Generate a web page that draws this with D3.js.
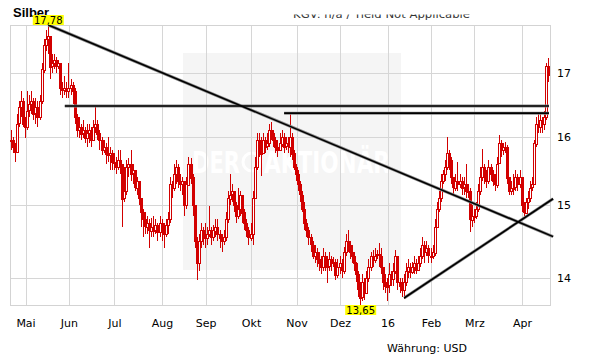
<!DOCTYPE html>
<html lang="de">
<head>
<meta charset="UTF-8">
<title>Silber</title>
<script src="https://d3js.org/d3.v7.min.js"></script>
<style>
  body { margin: 0; background: #fff; }
  svg text { font-family: 'DejaVu Sans', sans-serif; }
  .grid line { stroke: #d6d6d6; shape-rendering: crispEdges; }
  .axis text { font-size: 11px; fill: #000; }
  .axis path, .axis line { display: none; }
</style>
</head>
<body>
<div id="chart"></div>
<script>
// daily silver prices (USD), first trading day 22.04.2015, weekdays only
const startDate = "2015-04-22";

// closes, one row per month (open = previous close)
const closes = [
  15.95,15.85,15.78,16.2,16.45,16.55,16.2,
  16.15,16.4,16.5,16.55,16.35,16.45,16.3,16.55,17.05,17.45,17.55,17.6,17.1,17.15,17.2,17.1,17.15,16.75,16.72,16.75,16.7,
  16.75,16.8,16.7,16.3,16.1,16.15,16.05,16.1,15.98,16.05,16.1,15.95,16.15,16.2,16.05,15.95,15.8,15.85,15.75,15.72,15.75,15.62,
  15.6,15.55,15.65,15.6,15.1,15.2,15.55,15.6,15.45,15.5,15.25,15.35,15.1,14.9,14.8,14.7,14.75,14.65,14.7,14.65,14.72,14.62,14.75,
  14.65,14.6,14.72,14.8,15.3,15.25,15.45,15.55,15.35,15.3,15.35,15.0,15.3,15.6,15.4,15.0,14.5,14.2,14.5,14.65,14.6,
  14.55,14.6,14.65,14.55,14.65,14.7,14.6,14.55,14.5,14.55,14.8,15.1,15.15,15.2,15.0,14.85,14.95,15.15,14.9,14.75,14.65,14.55,
  14.6,15.1,15.55,15.95,15.85,15.75,15.95,15.85,15.9,16.1,16.05,15.95,15.85,15.8,15.9,16.0,15.85,15.9,15.85,16.0,15.75,15.55,
  15.45,15.3,15.15,14.95,14.75,14.65,14.55,14.45,14.3,14.35,14.25,14.2,14.15,14.3,14.2,14.15,14.25,14.2,14.22,14.05,14.15,
  14.2,14.1,14.35,14.5,14.45,14.35,14.3,14.2,14.05,13.85,13.75,13.95,13.8,14.0,14.15,14.3,14.25,14.3,14.32,14.3,14.15,13.95,13.9,
  13.9,14.05,14.0,14.1,14.3,13.95,13.9,13.85,13.95,14.1,14.15,14.08,14.15,14.2,14.1,14.2,14.3,14.45,14.35,14.4,14.3,
  14.3,14.35,14.7,14.95,15.1,15.35,15.45,15.55,15.75,15.65,15.4,15.25,15.35,15.3,15.35,15.25,15.3,15.2,15.2,14.8,14.85,
  14.85,14.95,15.2,15.4,15.55,15.45,15.35,15.55,15.45,15.35,15.3,15.6,15.9,15.8,15.85,15.85,15.4,15.2,15.25,15.25,15.4,15.3,15.4,
  15.0,14.9,15.05,15.1,15.25,15.3,15.9,16.2,16.15,16.25,16.2,16.3,17.1,16.95
];

const highs = [
  16.1,16.0,15.9,16.35,16.55,16.7,16.6,
  16.3,16.7,16.65,16.7,16.6,16.6,16.55,16.65,17.15,17.55,17.7,17.78,17.55,17.3,17.3,17.25,17.2,17.15,16.85,16.95,16.85,
  17.15,16.9,16.85,16.75,16.35,16.3,16.2,16.25,16.15,16.2,16.2,16.15,16.25,16.48,16.25,16.1,16.0,15.95,15.9,16.0,15.85,15.8,
  15.75,15.7,15.8,15.8,15.6,15.55,15.65,15.68,15.8,15.6,15.5,15.4,15.3,15.1,14.95,14.9,14.85,14.8,14.82,14.85,14.8,14.75,14.85,
  14.8,14.75,14.8,14.9,15.4,15.35,15.6,15.65,15.6,15.45,15.4,15.35,15.4,15.7,15.68,15.45,14.95,14.55,14.6,14.75,14.7,
  14.75,14.7,14.99,14.7,14.72,14.8,14.8,14.65,14.6,14.65,14.9,15.2,15.44,15.3,15.2,15.05,15.25,15.2,15.15,14.95,14.8,14.7,
  14.75,15.2,15.7,16.05,16.05,16.0,16.05,16.0,16.05,16.2,16.22,16.1,16.0,15.95,16.05,16.1,16.05,16.0,16.0,16.36,16.05,15.8,
  15.6,15.5,15.35,15.2,15.05,14.8,14.7,14.6,14.5,14.45,14.4,14.35,14.3,14.4,14.35,14.3,14.35,14.3,14.28,14.25,14.25,
  14.3,14.25,14.42,14.6,14.65,14.5,14.45,14.35,14.22,14.1,13.95,14.05,14.0,14.1,14.25,14.35,14.38,14.4,14.38,14.47,14.4,14.15,14.05,
  14.0,14.2,14.1,14.2,14.38,14.3,14.0,14.0,14.05,14.2,14.25,14.2,14.22,14.3,14.25,14.3,14.4,14.56,14.5,14.5,14.45,
  14.4,14.45,14.8,15.05,15.2,15.45,15.5,15.65,16.0,15.8,15.7,15.4,15.45,15.62,15.45,15.4,15.4,15.6,15.3,15.25,15.0,
  14.95,15.05,15.3,15.55,15.81,15.6,15.5,15.65,15.6,15.5,15.45,15.7,16.03,15.95,15.9,15.92,15.88,15.4,15.35,15.45,15.5,15.45,15.5,
  15.4,15.05,15.1,15.2,15.35,15.4,15.95,16.3,16.37,16.35,16.3,16.4,17.15,17.24
];

const lows = [
  15.8,15.75,15.62,15.75,16.15,16.3,16.15,
  15.98,16.1,16.3,16.35,16.25,16.2,16.15,16.25,16.5,17.0,17.35,17.3,16.9,17.0,17.05,17.0,17.05,16.65,16.6,16.65,16.6,
  16.6,16.65,16.5,16.2,16.0,15.98,15.95,15.98,15.9,15.85,15.9,15.85,15.95,16.05,15.95,15.8,15.72,15.75,15.6,15.62,15.5,15.5,
  15.5,15.45,15.5,15.45,14.69,15.05,15.15,15.4,15.35,15.3,15.2,15.15,15.0,14.7,14.55,14.6,14.6,14.4,14.55,14.55,14.6,14.5,14.55,
  14.5,14.4,14.55,14.6,14.75,15.1,15.2,15.3,15.25,15.2,15.15,14.85,14.95,15.3,15.3,14.85,14.4,13.98,14.1,14.4,14.45,
  14.4,14.45,14.55,14.45,14.5,14.55,14.5,14.4,14.35,14.45,14.5,14.75,15.0,15.05,14.9,14.75,14.8,14.85,14.75,14.65,14.55,14.45,
  14.5,14.45,15.1,15.5,15.7,15.42,15.75,15.75,15.8,15.85,15.95,15.85,15.75,15.7,15.78,15.85,15.75,15.8,15.75,15.7,15.65,15.5,
  15.35,15.2,15.05,14.9,14.65,14.55,14.45,14.35,14.25,14.2,14.15,14.1,14.05,14.1,14.1,13.93,14.1,14.1,14.15,13.98,14.0,
  14.05,14.0,14.05,14.3,14.35,14.25,14.2,14.1,13.95,13.75,13.65,13.7,13.72,13.8,13.95,14.1,14.15,14.2,14.25,14.15,14.05,13.85,13.8,
  13.7,13.8,13.9,13.9,14.05,13.85,13.8,13.75,13.73,13.9,14.0,14.0,14.05,14.05,14.05,14.1,14.15,14.25,14.2,14.3,14.2,
  14.2,14.25,14.3,14.7,14.9,15.05,15.3,15.35,15.5,15.5,15.3,15.15,15.2,15.2,15.25,15.15,15.15,15.1,15.1,14.63,14.7,
  14.75,14.8,14.9,15.15,15.35,15.3,15.25,15.3,15.35,15.28,15.2,15.25,15.6,15.7,15.72,15.75,15.3,15.15,15.15,15.15,15.2,15.2,15.25,
  14.9,14.85,14.88,14.95,15.05,15.2,15.3,15.85,16.05,16.05,16.05,16.1,16.25,16.85
];

const monthLabels = ["Mai", "Jun", "Jul", "Aug", "Sep", "Okt", "Nov", "Dez", "16", "Feb", "Mrz", "Apr"];
const yTicks = [14, 15, 16, 17];

// trend lines: [date, price] -> [date, price]
const trendLines = [
  { from: "2015-05-18", p1: 17.78, to: "2016-04-22", p2: 14.56 },
  { from: "2015-05-28", p1: 16.47, to: "2016-04-20", p2: 16.47 },
  { from: "2015-10-23", p1: 16.36, to: "2016-04-20", p2: 16.36 },
  { from: "2016-01-13", p1: 13.74, to: "2016-04-22", p2: 15.09 }
];

const W = 611, H = 364;
const plot = { left: 10, right: 550, top: 25, bottom: 305 };

// weekday index counted from startDate
const t0 = new Date(startDate + "T00:00:00Z");
function dayIndex(str) {
  const t = new Date(str + "T00:00:00Z");
  let n = 0;
  for (let d = new Date(t0); d < t; d.setUTCDate(d.getUTCDate() + 1)) {
    const wd = d.getUTCDay();
    if (wd !== 0 && wd !== 6) n++;
  }
  return n;
}
const dates = [];
for (let d = new Date(t0); dates.length < closes.length; d.setUTCDate(d.getUTCDate() + 1)) {
  const wd = d.getUTCDay();
  if (wd !== 0 && wd !== 6) dates.push(new Date(d));
}
const data = closes.map((c, i) => ({
  i: i,
  date: dates[i],
  open: i === 0 ? c : closes[i - 1],
  close: c,
  high: highs[i],
  low: lows[i]
}));

// first trading day of every month
const monthStarts = [];
data.forEach((d, i) => {
  if (i > 0 && d.date.getUTCMonth() !== data[i - 1].date.getUTCMonth()) monthStarts.push(i);
});

const x = d3.scaleLinear().domain([-0.5, data.length - 0.5]).range([plot.left, plot.right]);
const y = d3.scaleLog()
  .domain([d3.min(lows), d3.max(highs)])
  .range([plot.bottom, plot.top]);

const svg = d3.select("#chart").append("svg")
  .attr("width", W)
  .attr("height", H);

// title first, so the max label sits on top of it
svg.append("text")
  .attr("x", 13).attr("y", 17)
  .style("font-family", "'Liberation Sans', Arial, sans-serif")
  .style("font-size", "13px").style("font-weight", "bold")
  .text("Silber");
// header line, cut off at the top like in the source
svg.append("clipPath").attr("id", "hdr")
  .append("rect").attr("x", 0).attr("y", 14.5).attr("width", W).attr("height", 10);
svg.append("text")
  .attr("x", 293).attr("y", 18)
  .attr("clip-path", "url(#hdr)")
  .attr("textLength", 177).attr("lengthAdjust", "spacingAndGlyphs")
  .style("font-size", "11px").attr("fill", "#333")
  .text("KGV: n/a / Yield Not Applicable");

// watermark
svg.append("rect")
  .attr("x", 183).attr("y", 53).attr("width", 218).attr("height", 217)
  .attr("fill", "#f5f5f5");
svg.append("text")
  .attr("x", 192).attr("y", 173)
  .attr("textLength", 48).attr("lengthAdjust", "spacingAndGlyphs")
  .style("font-size", "30px").style("font-weight", "bold").attr("fill", "#fff")
  .text("DER");
svg.append("circle")
  .attr("cx", 252).attr("cy", 162).attr("r", 9)
  .attr("fill", "none").attr("stroke", "#fff").attr("stroke-width", 3);
svg.append("text")
  .attr("x", 264).attr("y", 173)
  .attr("textLength", 126).attr("lengthAdjust", "spacingAndGlyphs")
  .style("font-size", "30px").style("font-weight", "bold").attr("fill", "#fff")
  .text("AKTIONÄR");

// grid + frame
const grid = svg.append("g").attr("class", "grid");
grid.selectAll(".vx").data(monthStarts).enter().append("line")
  .attr("x1", d => Math.round(x(d)) + 0.5).attr("x2", d => Math.round(x(d)) + 0.5)
  .attr("y1", plot.top).attr("y2", plot.bottom);
grid.selectAll(".hy").data(yTicks).enter().append("line")
  .attr("x1", plot.left).attr("x2", plot.right)
  .attr("y1", d => Math.round(y(d)) + 0.5).attr("y2", d => Math.round(y(d)) + 0.5);
svg.append("rect")
  .attr("x", plot.left + 0.5).attr("y", plot.top + 0.5)
  .attr("width", plot.right - plot.left).attr("height", plot.bottom - plot.top)
  .attr("fill", "none").attr("stroke", "#d3d3d3")
  .style("shape-rendering", "crispEdges");

// candles
const red = "#d20000";
const candles = svg.append("g");
candles.selectAll(".wick").data(data).enter().append("line")
  .attr("x1", d => Math.floor(x(d.i)) + 0.5).attr("x2", d => Math.floor(x(d.i)) + 0.5)
  .attr("y1", d => y(Math.max(d.high, d.open, d.close)))
  .attr("y2", d => y(Math.min(d.low, d.open, d.close)))
  .attr("stroke", red).attr("stroke-width", 1)
  .style("shape-rendering", "crispEdges");
candles.selectAll(".body").data(data).enter().append("rect")
  .attr("x", d => Math.floor(x(d.i)) - 0.5)
  .attr("y", d => Math.round(y(Math.max(d.open, d.close))) + 0.5)
  .attr("width", 2)
  .attr("height", d => Math.max(1, Math.round(y(Math.min(d.open, d.close)) - y(Math.max(d.open, d.close)))))
  .attr("fill", d => d.close >= d.open ? "#fff" : red)
  .attr("stroke", red).attr("stroke-width", 1)
  .style("shape-rendering", "crispEdges");

// trend lines, soft grey edge under a black core
const tl = svg.append("g");
[{ c: "#8a8a8a", w: 3 }, { c: "#000", w: 1.6 }].forEach(s => {
  tl.selectAll(null).data(trendLines).enter().append("line")
    .attr("x1", d => x(dayIndex(d.from))).attr("y1", d => y(d.p1))
    .attr("x2", d => x(dayIndex(d.to))).attr("y2", d => y(d.p2))
    .attr("stroke", s.c).attr("stroke-width", s.w);
});

// axes
svg.append("g").attr("class", "axis")
  .attr("transform", "translate(0," + plot.bottom + ")")
  .call(d3.axisBottom(x).tickValues(monthStarts).tickFormat((d, i) => monthLabels[i]).tickSize(0).tickPadding(14));
svg.append("g").attr("class", "axis")
  .attr("transform", "translate(" + plot.right + ",0)")
  .call(d3.axisRight(y).tickValues(yTicks).tickFormat(d3.format("d")).tickSize(0).tickPadding(7));

// max / min labels
const fmt = v => d3.format(".2f")(v).replace(".", ",");
const iMax = d3.maxIndex(data, d => d.high);
const iMin = d3.minIndex(data, d => d.low);
[
  { i: iMax, v: data[iMax].high, top: y(data[iMax].high) - 10 },
  { i: iMin, v: data[iMin].low, top: y(data[iMin].low) }
].forEach(m => {
  const cx = x(m.i);
  svg.append("rect")
    .attr("x", cx - 15.5).attr("y", m.top).attr("width", 31).attr("height", 10)
    .attr("fill", "#ffff00");
  svg.append("text")
    .attr("x", cx).attr("y", m.top + 9)
    .attr("text-anchor", "middle")
    .style("font-size", "10px").attr("fill", "#000")
    .text(fmt(m.v));
});

// currency note
svg.append("text")
  .attr("x", 387).attr("y", 351.5)
  .style("font-size", "11px")
  .text("Währung: USD");
</script>
</body>
</html>
